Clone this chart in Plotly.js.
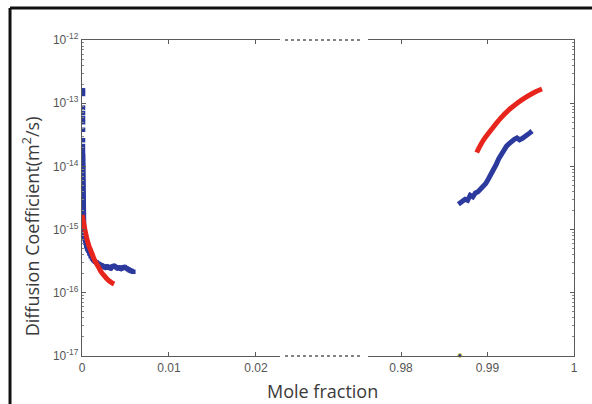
<!DOCTYPE html>
<html>
<head>
<meta charset="utf-8">
<script src="https://cdn.plot.ly/plotly-3.0.1.min.js"></script>
<style>html,body{margin:0;padding:0;background:#fff;}#chart{width:592px;height:404px;}</style>
</head>
<body>
<div id="chart"></div>
<script>
// ---- data ----
// Left segment (mole fraction near 0)
const blueStackX = [0.00012,0.00012,0.00012,0.00012,0.00012,0.00012,0.00012,0.00012,0.00011,0.00011];
const blueStackY = [1.6e-13,1.4e-13,8.5e-14,7.0e-14,5.8e-14,5.0e-14,3.8e-14,2.6e-14,2.1e-14,1.8e-14];

const blueLeftX = [0.00010,0.00010,0.00010,0.00011,0.00011,0.00011,0.00012,0.00012,0.00012,0.00013,0.00013,0.00014,0.00014,0.00015,
  0.00016,0.00017,0.00019,0.00022,0.00026,0.00032,0.00040,0.00050,0.00060,0.00070,0.00085,0.0010,0.00115,0.0013,0.0015,0.0017,
  0.0019,0.0021,0.0023,0.0025,0.0027,0.0029,0.0031,0.0033,0.0035,0.0037,0.0039,0.0041,0.0043,0.0045,0.0047,0.0049,0.0051,0.0053,0.0055,0.0057,0.0059];
const blueLeftY = [1.6e-14,1.35e-14,1.15e-14,1.0e-14,8.5e-15,7.2e-15,6.0e-15,5.0e-15,4.2e-15,3.5e-15,3.0e-15,2.5e-15,2.1e-15,1.8e-15,
  1.5e-15,1.25e-15,1.05e-15,9.0e-16,7.8e-16,7.0e-16,6.2e-16,5.5e-16,5.0e-16,4.7e-16,4.2e-16,3.8e-16,3.5e-16,3.3e-16,3.1e-16,3.0e-16,
  2.85e-16,2.75e-16,2.7e-16,2.6e-16,2.5e-16,2.6e-16,2.5e-16,2.45e-16,2.6e-16,2.65e-16,2.55e-16,2.45e-16,2.5e-16,2.4e-16,2.5e-16,2.55e-16,2.45e-16,2.35e-16,2.25e-16,2.2e-16,2.15e-16];

const redLeftX = [0.00002,0.0001,0.0002,0.0003,0.0004,0.0005,0.0006,0.0008,0.0010,0.0012,0.0014,0.0016,0.0018,0.0020,0.0022,0.0025,0.0028,0.0031,0.0034,0.0037];
const redLeftY = [1.7e-15,1.5e-15,1.25e-15,1.05e-15,9.0e-16,7.8e-16,6.8e-16,5.5e-16,4.7e-16,4.0e-16,3.4e-16,3.0e-16,2.7e-16,2.4e-16,2.15e-16,1.9e-16,1.7e-16,1.55e-16,1.45e-16,1.38e-16];

// Right segment (mole fraction near 1)
const blueRightX = [0.98663,0.98700,0.98740,0.98770,0.98800,0.98830,0.98860,0.98890,0.98920,0.98950,0.98980,0.99010,0.99040,0.99070,
  0.99100,0.99130,0.99160,0.99190,0.99220,0.99250,0.99280,0.99310,0.99340,0.99370,0.99400,0.99430,0.99460,0.99490,0.99515];
const blueRightY = [2.51e-15,2.69e-15,3.02e-15,2.9e-15,3.5e-15,3.3e-15,3.8e-15,3.98e-15,4.37e-15,4.68e-15,5.37e-15,6.31e-15,7.41e-15,8.91e-15,
  1.07e-14,1.32e-14,1.58e-14,1.82e-14,2.09e-14,2.29e-14,2.51e-14,2.69e-14,2.82e-14,2.63e-14,2.75e-14,3.02e-14,3.16e-14,3.39e-14,3.63e-14];

const redRightX = [0.98875,0.9895,0.9905,0.9915,0.9925,0.9935,0.9945,0.9955,0.9963];
const redRightY = [1.66e-14,2.57e-14,3.9e-14,5.75e-14,7.9e-14,1.02e-13,1.26e-13,1.51e-13,1.68e-13];

const loneX = [0.9868];
const loneY = [1.02e-17];

// ticks
const yTickVals = [1e-17,1e-16,1e-15,1e-14,1e-13,1e-12];
const yTickText = ['10<sup>-17</sup>','10<sup>-16</sup>','10<sup>-15</sup>','10<sup>-14</sup>','10<sup>-13</sup>','10<sup>-12</sup>'];
const xLeftTicks = [0,0.01,0.02];
const xLeftText = ['0','0.01','0.02'];
const xRightTicks = [0.98,0.99,1];
const xRightText = ['0.98','0.99','1'];

const minorVals = [];
for (let e = -17; e < -12; e++) for (let m = 2; m <= 9; m++) minorVals.push(m * Math.pow(10, e));

const BLUE = '#2c3a9e', RED = '#e8251c', AX = '#5a5a5a';
const tickFont = {family: 'Arial, Liberation Sans, sans-serif', size: 12, color: '#555'};
const titleFont = {family: 'Open Sans, sans-serif', size: 18, color: '#3a3a3a'};

const traces = [
  {x: blueStackX, y: blueStackY, mode: 'markers', marker: {symbol: 'square', size: 4.5, color: BLUE}, xaxis: 'x', yaxis: 'y'},
  {x: blueLeftX, y: blueLeftY, mode: 'lines+markers', line: {color: BLUE, width: 5}, marker: {symbol: 'square', size: 4.5, color: BLUE}, xaxis: 'x', yaxis: 'y'},
  {x: redLeftX, y: redLeftY, mode: 'lines', line: {color: RED, width: 5, shape: 'spline'}, xaxis: 'x', yaxis: 'y'},
  {x: blueRightX, y: blueRightY, mode: 'lines', line: {color: BLUE, width: 5}, xaxis: 'x2', yaxis: 'y2'},
  {x: redRightX, y: redRightY, mode: 'lines', line: {color: RED, width: 5, shape: 'spline'}, xaxis: 'x2', yaxis: 'y2'},
  {x: loneX, y: loneY, mode: 'markers', marker: {size: 4, color: BLUE, line: {color: '#e8d84a', width: 1}}, xaxis: 'x2', yaxis: 'y2', cliponaxis: false}
];

const yCommon = {
  type: 'log', range: [-17, -12], showgrid: false, zeroline: false,
  showline: true, linecolor: AX, linewidth: 1.2,
  ticks: 'inside', ticklen: 4, tickcolor: AX,
  tickmode: 'array', tickvals: yTickVals, ticktext: yTickText,
  minor: {tickmode: 'array', tickvals: minorVals, ticks: 'inside', ticklen: 2, tickcolor: '#888'},
  tickfont: tickFont
};

const layout = {
  width: 592, height: 404,
  margin: {l: 82, r: 18, t: 40, b: 48},
  paper_bgcolor: '#fff', plot_bgcolor: '#fff',
  showlegend: false,
  xaxis: {
    domain: [0, 0.4024], range: [0, 0.02276], showgrid: false, zeroline: false,
    showline: true, linecolor: AX, linewidth: 1.2, mirror: 'ticks', ticks: 'inside', ticklen: 4, tickcolor: AX,
    tickmode: 'array', tickvals: xLeftTicks, ticktext: xLeftText, tickfont: tickFont, anchor: 'y'
  },
  xaxis2: {
    domain: [0.5813, 1], range: [0.97618, 1.0], showgrid: false, zeroline: false,
    showline: true, linecolor: AX, linewidth: 1.2, mirror: 'ticks', ticks: 'inside', ticklen: 4, tickcolor: AX,
    tickmode: 'array', tickvals: xRightTicks, ticktext: xRightText, tickfont: tickFont, anchor: 'y2'
  },
  yaxis: Object.assign({}, yCommon, {anchor: 'x'}),
  yaxis2: Object.assign({}, yCommon, {anchor: 'x2', side: 'right', matches: 'y', showticklabels: false}),
  shapes: [
    {type: 'line', xref: 'paper', yref: 'paper', x0: 0.4126, x1: 0.5711, y0: 0, y1: 0, line: {color: AX, width: 1.5, dash: 'dot'}},
    {type: 'line', xref: 'paper', yref: 'paper', x0: 0.4126, x1: 0.5711, y0: 1, y1: 1, line: {color: AX, width: 1.5, dash: 'dot'}},
    {type: 'line', xref: 'paper', yref: 'paper', x0: -0.1463, x1: 1.04, y0: 1.1013, y1: 1.1013, line: {color: '#111', width: 3}},
    {type: 'line', xref: 'paper', yref: 'paper', x0: -0.1463, x1: -0.1463, y0: 1.1013, y1: -0.16, line: {color: '#111', width: 3}}
  ],
  annotations: [
    {text: 'Mole fraction', xref: 'paper', yref: 'paper', x: 0.488, y: -0.065, yanchor: 'top', showarrow: false, font: titleFont},
    {text: 'Diffusion Coefficient(m<sup>2</sup>/s)', xref: 'paper', yref: 'paper', x: -0.102, y: 0.41,
     xanchor: 'center', yanchor: 'middle', textangle: -90, showarrow: false, font: titleFont}
  ]
};

Plotly.newPlot('chart', traces, layout, {displayModeBar: false, staticPlot: true});
</script>
</body>
</html>
